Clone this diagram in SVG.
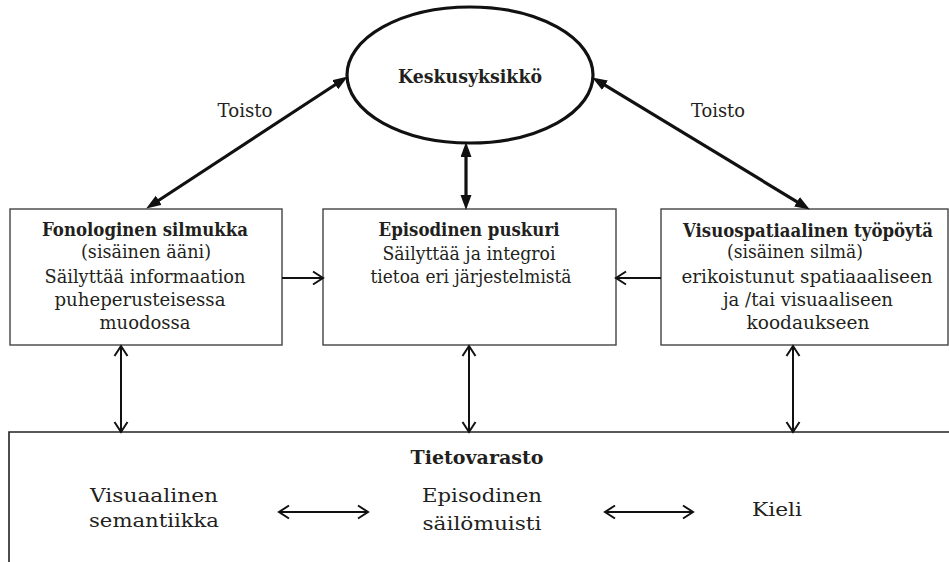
<svg xmlns="http://www.w3.org/2000/svg" width="949" height="562" viewBox="0 0 949 562">
  <style>
    text { font-family: "DejaVu Serif", "Liberation Serif", serif; fill: #231f20; text-anchor: middle; }
    .t { font-size: 18px; }
    .b { font-size: 18px; font-weight: bold; }
    .bt { font-size: 18.5px; }
    .box { fill: #fff; stroke: #444; stroke-width: 1.4; }
    .thick { stroke: #111; stroke-width: 3.2; fill: none; marker-start: url(#solid); marker-end: url(#solid); }
    .thin { stroke: #111; stroke-width: 2; fill: none; }
    .both { marker-start: url(#open); marker-end: url(#open); }
    .one { marker-end: url(#open); }
  </style>
  <defs>
    <marker id="solid" markerUnits="userSpaceOnUse" markerWidth="16" markerHeight="12" refX="4" refY="5.5" orient="auto-start-reverse">
      <path d="M0,0 L15,5.5 L0,11 Z" fill="#111"/>
    </marker>
    <marker id="open" markerUnits="userSpaceOnUse" markerWidth="14" markerHeight="16" refX="11" refY="7" orient="auto-start-reverse" overflow="visible">
      <path d="M1,0.5 L11,7 L1,13.5" fill="none" stroke="#111" stroke-width="2"/>
    </marker>
  </defs>

  <!-- central executive -->
  <g id="keskusyksikko">
    <ellipse cx="470" cy="75" rx="123" ry="68" fill="#fff" stroke="#111" stroke-width="3.2"/>
    <text class="b" x="470" y="83" textLength="144" lengthAdjust="spacingAndGlyphs">Keskusyksikkö</text>
  </g>

  <!-- phonological loop -->
  <g id="fonologinen">
    <rect class="box" x="10" y="209" width="272" height="136"/>
    <text class="b" x="145" y="236" textLength="206" lengthAdjust="spacingAndGlyphs">Fonologinen silmukka</text>
    <text class="t" x="146" y="258" textLength="130" lengthAdjust="spacingAndGlyphs">(sisäinen ääni)</text>
    <text class="t" x="145" y="283" textLength="201" lengthAdjust="spacingAndGlyphs">Säilyttää informaation</text>
    <text class="t" x="140" y="306" textLength="171" lengthAdjust="spacingAndGlyphs">puheperusteisessa</text>
    <text class="t" x="145" y="329" textLength="91" lengthAdjust="spacingAndGlyphs">muodossa</text>
  </g>

  <!-- episodic buffer -->
  <g id="puskuri">
    <rect class="box" x="323" y="209" width="293" height="136"/>
    <text class="b" x="469" y="236" textLength="181" lengthAdjust="spacingAndGlyphs">Episodinen puskuri</text>
    <text class="t" x="469" y="260" textLength="173" lengthAdjust="spacingAndGlyphs">Säilyttää ja integroi</text>
    <text class="t" x="471" y="283" textLength="201" lengthAdjust="spacingAndGlyphs">tietoa eri järjestelmistä</text>
  </g>

  <!-- visuospatial sketchpad -->
  <g id="visuospatiaalinen">
    <rect class="box" x="661" y="209" width="287" height="136"/>
    <text class="b" x="808" y="237" font-size="17" textLength="250" lengthAdjust="spacingAndGlyphs">Visuospatiaalinen työpöytä</text>
    <text class="t" x="795" y="258" textLength="136" lengthAdjust="spacingAndGlyphs">(sisäinen silmä)</text>
    <text class="t" x="807" y="283" textLength="251" lengthAdjust="spacingAndGlyphs">erikoistunut spatiaaaliseen</text>
    <text class="t" x="808" y="306" textLength="170" lengthAdjust="spacingAndGlyphs">ja /tai visuaaliseen</text>
    <text class="t" x="808" y="329" textLength="123" lengthAdjust="spacingAndGlyphs">koodaukseen</text>
  </g>

  <!-- long-term store -->
  <g id="tietovarasto">
    <path d="M952,432 H9 V562" fill="#fff" stroke="#222" stroke-width="1.6"/>
    <text class="bt" font-weight="bold" x="477" y="464" textLength="133" lengthAdjust="spacingAndGlyphs">Tietovarasto</text>
    <text class="bt" x="154" y="502" textLength="128" lengthAdjust="spacingAndGlyphs">Visuaalinen</text>
    <text class="bt" x="154" y="527" textLength="130" lengthAdjust="spacingAndGlyphs">semantiikka</text>
    <text class="bt" x="482" y="502" textLength="120" lengthAdjust="spacingAndGlyphs">Episodinen</text>
    <text class="bt" x="482" y="530" textLength="119" lengthAdjust="spacingAndGlyphs">säilömuisti</text>
    <text class="bt" x="777" y="516" textLength="50" lengthAdjust="spacingAndGlyphs">Kieli</text>
  </g>

  <!-- connectors -->
  <g id="connectors">
    <line class="thick" x1="155.4" y1="202.5" x2="338.6" y2="82.5"/>
    <line class="thick" x1="601.6" y1="83.2" x2="800.4" y2="203.8"/>
    <line class="thick" x1="466" y1="153" x2="466" y2="199"/>
    <text class="t" x="245" y="117" textLength="55" lengthAdjust="spacingAndGlyphs">Toisto</text>
    <text class="t" x="718" y="117" textLength="54" lengthAdjust="spacingAndGlyphs">Toisto</text>

    <line class="thin one" x1="282" y1="278" x2="323" y2="278"/>
    <line class="thin one" x1="661" y1="278" x2="616" y2="278"/>

    <line class="thin both" x1="121" y1="346" x2="121" y2="432"/>
    <line class="thin both" x1="469" y1="346" x2="469" y2="432"/>
    <line class="thin both" x1="793" y1="346" x2="793" y2="432"/>

    <line class="thin both" stroke-width="2.6" x1="279" y1="512" x2="368" y2="512"/>
    <line class="thin both" stroke-width="2.6" x1="605" y1="512" x2="693" y2="512"/>
  </g>
</svg>
